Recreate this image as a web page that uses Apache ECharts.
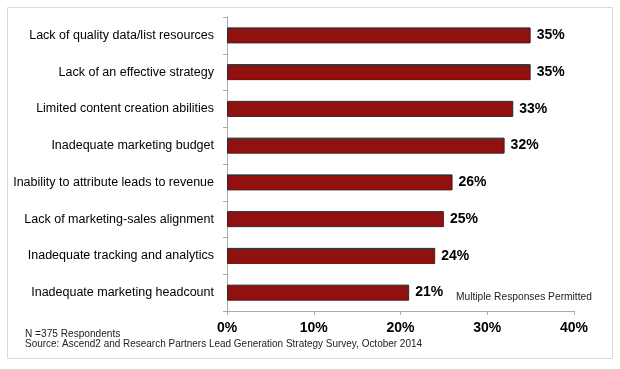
<!DOCTYPE html>
<html><head><meta charset="utf-8">
<script src="https://cdn.jsdelivr.net/npm/echarts@6/dist/echarts.min.js"></script>
<style>html,body{margin:0;padding:0;background:#fff}#c{width:620px;height:369px}</style>
</head><body><div id="c"></div>
<script>
const categories = [
  "Lack of quality data/list resources",
  "Lack of an effective strategy",
  "Limited content creation abilities",
  "Inadequate marketing budget",
  "Inability to attribute leads to revenue",
  "Lack of marketing-sales alignment",
  "Inadequate tracking and analytics",
  "Inadequate marketing headcount"
];
const values = [35, 35, 33, 32, 26, 25, 24, 21];
const xTicks = [0, 10, 20, 30, 40];
const noteText = "Multiple Responses Permitted";
const footN = "N =375 Respondents";
const footSource = "Source: Ascend2 and Research Partners Lead Generation Strategy Survey, October 2014";

const chart = echarts.init(document.getElementById('c'), null, {renderer: 'canvas'});
const font = "'Liberation Sans', Arial, sans-serif";
const smallFont = "11px 'Liberation Sans', Arial, sans-serif";
chart.setOption({
  animation: false,
  grid: {left: 227, right: 46, top: 17, bottom: 58, containLabel: false},
  xAxis: {
    type: 'value', min: xTicks[0], max: xTicks[xTicks.length-1], interval: 10,
    axisLine: {show: true, lineStyle: {color: '#aaa', width: 1}},
    axisTick: {show: true, length: 4, lineStyle: {color: '#aaa'}},
    splitLine: {show: false},
    axisLabel: {formatter: v => v + '%', color: '#000', fontFamily: font, fontSize: 14, fontWeight: 'bold', margin: 10}
  },
  yAxis: {
    type: 'category', data: categories, inverse: true,
    axisLine: {show: true, lineStyle: {color: '#aaa', width: 1}},
    axisTick: {show: true, length: 4, lineStyle: {color: '#aaa'}},
    axisLabel: {color: '#000', fontFamily: font, fontSize: 12.5, margin: 13}
  },
  series: [{
    type: 'bar', data: values, barWidth: 16,
    itemStyle: {color: '#911111', borderColor: '#2a2a2a', borderWidth: 1},
    label: {show: true, position: 'right', distance: 6, formatter: p => p.value + '%', color: '#000', fontFamily: font, fontSize: 14, fontWeight: 'bold'}
  }],
  graphic: [
    {type: 'rect', shape: {x: 7.5, y: 7.5, width: 605, height: 351}, style: {fill: 'none', stroke: '#d9d9d9', lineWidth: 1}, silent: true, z: -1},
    {type: 'text', x: 456, y: 291, scaleX: 0.93, style: {text: noteText, fill: '#222', font: smallFont}},
    {type: 'text', x: 25, y: 328, scaleX: 0.92, style: {text: footN, fill: '#222', font: smallFont}},
    {type: 'text', x: 25, y: 338, scaleX: 0.906, style: {text: footSource, fill: '#222', font: smallFont}}
  ]
});
</script></body></html>
